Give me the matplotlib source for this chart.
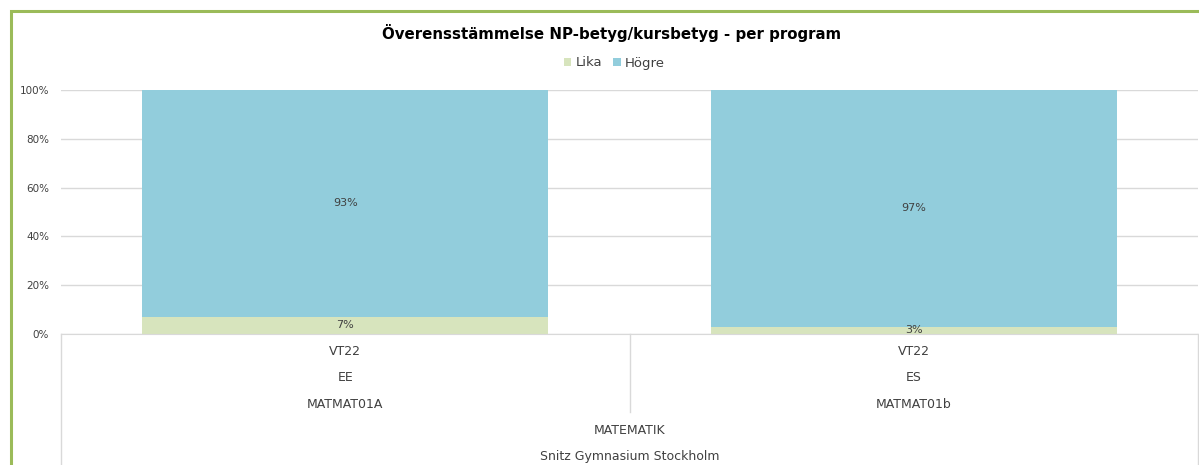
import numpy as np
import matplotlib
matplotlib.use("Agg")
import matplotlib.pyplot as plt
import matplotlib.transforms as mtransforms
from matplotlib.patches import Rectangle
from matplotlib.lines import Line2D

plt.rcParams['font.family'] = ['DejaVu Sans']

# data
terms = ['VT22', 'VT22']
programs = ['EE', 'ES']
courses = ['MATMAT01A', 'MATMAT01b']
subject = 'MATEMATIK'
school = 'Snitz Gymnasium Stockholm'
lika = [7, 3]
hogre = [93, 97]

W, H = 1199, 465
fig = plt.figure(figsize=(W / 100, H / 100), dpi=100)

def fx(px):
    return px / W

def fy(py):
    return 1 - py / H

ax = fig.add_axes([fx(61), fy(334), fx(1198) - fx(61), fy(90) - fy(334)])

txt = '#404040'
green = '#D7E4BD'
blue = '#92CDDC'
x = np.arange(len(courses))
bw = 0.715

b1 = ax.bar(x, lika, bw, color=green, label='Lika', zorder=2)
b2 = ax.bar(x, hogre, bw, bottom=lika, color=blue, label='Högre', zorder=2)

# data labels
for i in range(len(x)):
    ax.text(x[i], lika[i] / 2, f'{lika[i]}%', ha='center', va='center',
            fontsize=8, color=txt, zorder=3)
    ax.text(x[i], lika[i] + hogre[i] / 2, f'{hogre[i]}%', ha='center',
            va='center', fontsize=8, color=txt, zorder=3)

ax.set_xlim(-0.5, len(x) - 0.5)
ax.set_ylim(0, 100)
ax.set_yticks(range(0, 101, 20))
ax.set_yticklabels([f'{v}%' for v in range(0, 101, 20)], fontsize=7.5, color=txt)
ax.set_xticks([])
ax.tick_params(axis='y', length=0, pad=8.5)
ax.grid(axis='y', color='#D9D9D9', lw=1, zorder=0)
for s in ['top', 'right', 'left']:
    ax.spines[s].set_visible(False)
ax.spines['bottom'].set_color('#D9D9D9')

# multi-level category axis (x in data, y in figure coords)
tr = mtransforms.blended_transform_factory(ax.transData, fig.transFigure)
for i in range(len(x)):
    for lab, py in [(terms[i], 351), (programs[i], 377), (courses[i], 404)]:
        ax.text(x[i], fy(py), lab, transform=tr, ha='center', va='center',
                fontsize=9, color=txt)
mid = np.mean(x)
for lab, py in [(subject, 430), (school, 456)]:
    ax.text(mid, fy(py), lab, transform=tr, ha='center', va='center',
            fontsize=9, color=txt)

lc = '#D9D9D9'
fig.add_artist(Line2D([fx(61), fx(61)], [fy(334), 0], color=lc, lw=1))
fig.add_artist(Line2D([fx(1198), fx(1198)], [fy(334), 0], color=lc, lw=1))
fig.add_artist(Line2D([fx(629.5), fx(629.5)], [fy(334), fy(412)], color=lc, lw=1))

fig.text(fx(612), fy(33), 'Överensstämmelse NP-betyg/kursbetyg - per program',
         ha='center', va='center', fontsize=10.8, fontweight='bold', color='black')
fig.legend(handles=[b1, b2], labels=['Lika', 'Högre'], loc='center',
           bbox_to_anchor=(fx(614), fy(63)), ncol=2, frameon=False, fontsize=9.5,
           handlelength=0.6, handleheight=0.6, handletextpad=0.3, columnspacing=0.8,
           labelcolor=txt)

# green chart border
fig.add_artist(Rectangle((fx(11), fy(520)), 2, fy(11) - fy(520), transform=fig.transFigure,
                         fill=False, edgecolor='#9BBB59', lw=2.2))

fig.savefig('out.png', dpi=100)
